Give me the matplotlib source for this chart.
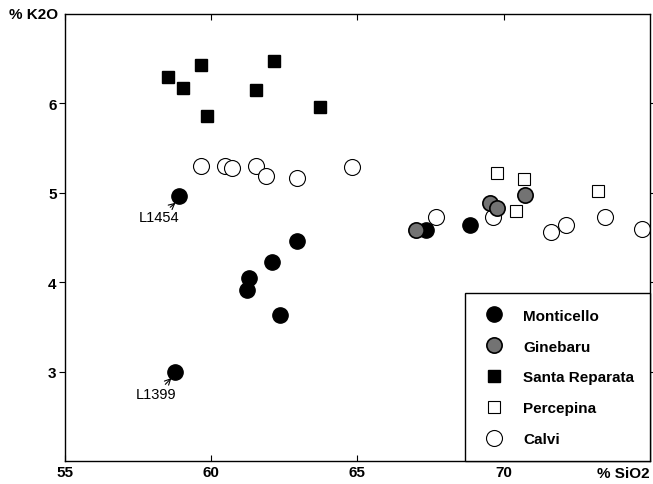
import matplotlib
matplotlib.use("Agg")
import matplotlib.pyplot as plt

plt.rcParams['font.family'] = ['Liberation Sans', 'DejaVu Sans']

# Monticello
mont_x = [58.90, 62.92, 62.07, 61.30, 61.21, 62.37, 58.76, 67.34, 68.85]
mont_y = [4.97, 4.46, 4.23, 4.05, 3.91, 3.64, 3.00, 4.58, 4.64]
# Ginebaru
gine_x = [67.02, 69.53, 69.76, 70.75]
gine_y = [4.58, 4.89, 4.83, 4.98]
# Santa Reparata
santa_x = [58.51, 59.05, 59.65, 59.87, 61.55, 62.15, 63.72]
santa_y = [6.30, 6.17, 6.43, 5.86, 6.15, 6.48, 5.96]
# Percepina
perc_x = [69.76, 70.69, 70.44, 73.23]
perc_y = [5.22, 5.16, 4.80, 5.02]
# Calvi
calvi_x = [59.65, 60.47, 60.72, 61.53, 61.86, 62.92, 64.82, 67.68, 69.64, 71.64, 72.15, 73.46, 74.72]
calvi_y = [5.30, 5.30, 5.28, 5.30, 5.19, 5.17, 5.29, 4.73, 4.73, 4.56, 4.64, 4.73, 4.60]

xticks = [55, 60, 65, 70]
yticks = [3, 4, 5, 6]

fig = plt.figure(figsize=(6.53, 4.85), dpi=100)
ax = fig.add_axes([0.0995, 0.047, 0.8955, 0.922])

ax.plot(calvi_x, calvi_y, 'o', ms=11.5, mfc='white', mec='black', mew=0.8, label='Calvi', clip_on=False)
ax.plot(perc_x, perc_y, 's', ms=9, mfc='white', mec='black', mew=0.8, label='Percepina')
ax.plot(santa_x, santa_y, 's', ms=9, mfc='black', mec='black', label='Santa Reparata')
ax.plot(mont_x, mont_y, 'o', ms=11, mfc='black', mec='black', label='Monticello')
ax.plot(gine_x, gine_y, 'o', ms=11, mfc='0.45', mec='black', mew=1.2, label='Ginebaru')

ax.set_xlim(55, 75)
ax.set_ylim(2, 7)
ax.set_xticks(xticks)
ax.set_yticks(yticks)
ax.set_xticklabels([str(t) for t in xticks], fontsize=11, fontweight='bold')
ax.set_yticklabels([str(t) for t in yticks], fontsize=11, fontweight='bold')
ax.tick_params(axis='x', direction='in', length=4, pad=3, top=True)
ax.tick_params(axis='y', direction='out', length=4, pad=2, right=True)
for s in ax.spines.values():
    s.set_linewidth(1.0)

ax.text(-0.012, 1.0, '% K2O', transform=ax.transAxes, ha='right', va='center',
        fontsize=11, fontweight='bold')
ax.text(1.0, -0.01, '% SiO2', transform=ax.transAxes, ha='right', va='top',
        fontsize=11, fontweight='bold')

ax.annotate('L1454', xy=(58.78, 4.89), xytext=(58.21, 4.73), ha='center', va='center',
            fontsize=10.5, arrowprops=dict(arrowstyle='->', lw=0.8, shrinkA=0, shrinkB=0))
ax.annotate('L1399', xy=(58.64, 2.93), xytext=(58.11, 2.75), ha='center', va='center',
            fontsize=10.5, arrowprops=dict(arrowstyle='->', lw=0.8, shrinkA=0, shrinkB=0))

h, l = ax.get_legend_handles_labels()
order = ['Monticello', 'Ginebaru', 'Santa Reparata', 'Percepina', 'Calvi']
hd = dict(zip(l, h))
leg = ax.legend([hd[k] for k in order], order, loc='lower right', bbox_to_anchor=(1.0, 0.0),
                frameon=True, fancybox=False, edgecolor='black', framealpha=1,
                borderpad=1.0, labelspacing=1.1, handlelength=1.8, handletextpad=1.0,
                prop={'weight': 'bold', 'size': 11}, borderaxespad=0)
leg.get_frame().set_linewidth(1.0)

fig.savefig('out.png', dpi=100)
